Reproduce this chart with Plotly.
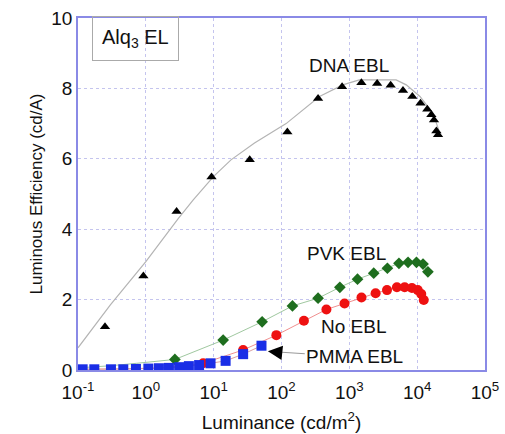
import plotly.graph_objects as go

# ---- data ----
dna_x = [0.25, 0.92, 2.84, 9.3, 34, 122, 346, 782, 1507, 2570, 4070, 6180, 8490,
         11200, 14100, 16200, 17700, 19200, 20300]
dna_y = [1.23, 2.67, 4.50, 5.48, 5.97, 6.76, 7.71, 8.05, 8.16, 8.14, 8.09, 7.94, 7.77,
         7.58, 7.41, 7.25, 7.10, 6.79, 6.68]
dna_fit_x = [0.1, 0.3, 1, 3, 5, 10, 18, 40, 117, 363, 800, 1400, 4900, 6900, 11000, 17000, 21000]
dna_fit_y = [0.63, 1.85, 3.08, 4.30, 4.83, 5.50, 5.97, 6.45, 7.00, 7.77, 8.10, 8.24, 8.24, 8.10, 7.77, 7.30, 6.80]

pvk_x = [2.68, 13.8, 51.8, 145, 346, 725, 1320, 2290, 3640, 5390, 7340, 9770, 12200, 14400]
pvk_y = [0.30, 0.85, 1.37, 1.82, 2.04, 2.35, 2.58, 2.75, 2.89, 3.03, 3.06, 3.06, 3.01, 2.79]
pvk_fit_x = [0.1, 0.3, 0.73, 2.68]
pvk_fit_y = [0.06, 0.12, 0.19, 0.30]

no_x = [7.0, 27.2, 84, 214, 459, 850, 1510, 2440, 3590, 5030, 6540, 8370, 10200, 11500, 12500]
no_y = [0.19, 0.57, 0.99, 1.40, 1.72, 1.89, 2.06, 2.18, 2.27, 2.35, 2.35, 2.33, 2.27, 2.16, 1.99]
no_fit_x = [0.1, 0.5, 1.5, 4.0, 7.0]
no_fit_y = [0.02, 0.03, 0.06, 0.12, 0.19]

pmma_x = [0.117, 0.174, 0.306, 0.465, 0.715, 1.09, 1.56, 2.19, 3.1, 4.31, 6.1, 9.0, 15.0, 27.2, 50.7]
pmma_y = [0.02, 0.02, 0.02, 0.02, 0.03, 0.04, 0.05, 0.06, 0.08, 0.11, 0.14, 0.19, 0.26, 0.45, 0.69]

x_tickvals = [0.1, 1, 10, 100, 1000, 10000, 100000]
x_ticktext = ["10<sup>-1</sup>", "10<sup>0</sup>", "10<sup>1</sup>", "10<sup>2</sup>",
              "10<sup>3</sup>", "10<sup>4</sup>", "10<sup>5</sup>"]
y_tickvals = [0, 2, 4, 6, 8, 10]

FONT = "Arial, Liberation Sans, sans-serif"
AXC = "#8a8ae6"
GRIDC = "#c4c4ee"

fig = go.Figure()

# fit / guide lines
fig.add_trace(go.Scatter(x=dna_fit_x, y=dna_fit_y, mode="lines",
                         line=dict(color="#b4b4b4", width=1.2), hoverinfo="skip"))
fig.add_trace(go.Scatter(x=pvk_fit_x + pvk_x, y=pvk_fit_y + pvk_y, mode="lines",
                         line=dict(color="#a0c8a0", width=1), hoverinfo="skip"))
fig.add_trace(go.Scatter(x=no_fit_x + no_x, y=no_fit_y + no_y, mode="lines",
                         line=dict(color="#f09090", width=1), hoverinfo="skip"))
fig.add_trace(go.Scatter(x=pmma_x, y=pmma_y, mode="lines",
                         line=dict(color="#d9a0a0", width=1), hoverinfo="skip"))

# markers
fig.add_trace(go.Scatter(x=dna_x, y=dna_y, mode="markers", name="DNA EBL",
                         marker=dict(symbol="triangle-up", size=9, color="black")))
fig.add_trace(go.Scatter(x=pvk_x, y=pvk_y, mode="markers", name="PVK EBL",
                         marker=dict(symbol="diamond", size=9, color="#1e6e1e")))
fig.add_trace(go.Scatter(x=no_x, y=no_y, mode="markers", name="No EBL",
                         marker=dict(symbol="circle", size=10, color="#ee1111")))
fig.add_trace(go.Scatter(x=pmma_x, y=pmma_y, mode="markers", name="PMMA EBL",
                         marker=dict(symbol="square", size=10, color="#1a2ee6")))

ann_font = dict(family=FONT, size=19, color="#111111")
fig.update_layout(
    width=505, height=434,
    margin=dict(l=78, r=20, t=18, b=64),
    paper_bgcolor="white", plot_bgcolor="white",
    showlegend=False,
    font=dict(family=FONT, size=19, color="#111111"),
    xaxis=dict(type="log", range=[-1, 5], tickvals=x_tickvals, ticktext=x_ticktext,
               showgrid=True, gridcolor=GRIDC, griddash="dot", gridwidth=1,
               showline=True, linecolor=AXC, linewidth=1.5, mirror=True,
               ticks="", zeroline=False, ticklabelstandoff=4, automargin=False,
               tickfont=dict(size=19),
               title=dict(text="Luminance (cd/m<sup>2</sup>)", font=dict(size=19), standoff=14)),
    yaxis=dict(range=[0, 10], tickvals=y_tickvals,
               showgrid=True, gridcolor=GRIDC, griddash="dot", gridwidth=1,
               showline=True, linecolor=AXC, linewidth=1.5, mirror=True,
               ticks="", zeroline=False, automargin=False,
               tickfont=dict(size=19),
               title=dict(text="Luminous Efficiency (cd/A)", font=dict(size=17), standoff=4)),
    annotations=[
        dict(text="Alq<sub>3</sub> EL", xref="paper", yref="paper", x=0.141, y=0.941,
             xanchor="center", yanchor="middle", showarrow=False,
             bordercolor="#aaaaaa", borderwidth=1, borderpad=9,
             font=dict(family=FONT, size=20, color="#111111")),
        dict(text="DNA EBL", xref="x", yref="y", x=3.0, y=8.65, showarrow=False, font=ann_font),
        dict(text="PVK EBL", xref="x", yref="y", x=2.96, y=3.32, showarrow=False, font=ann_font),
        dict(text="No EBL", xref="x", yref="y", x=3.06, y=1.25, showarrow=False, font=ann_font),
        dict(text="PMMA EBL", xref="x", yref="y", x=1.96, y=0.51,
             ax=3.08, ay=0.37, axref="x", ayref="y",
             showarrow=True, arrowhead=0, arrowcolor="#999999", arrowwidth=1,
             font=ann_font),
        dict(text="", xref="x", yref="y", x=1.80, y=0.53,
             ax=1.95, ay=0.50, axref="x", ayref="y",
             showarrow=True, arrowhead=2, arrowsize=1.8, arrowwidth=1.6,
             arrowcolor="black"),
    ],
)

fig.write_html("out.html")
